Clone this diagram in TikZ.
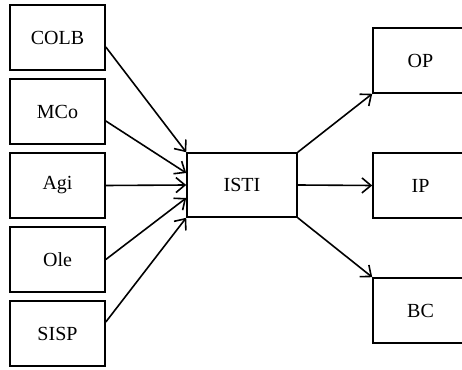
\documentclass[tikz,border=0pt]{standalone}
\usepackage{fontspec}
\setmainfont{Liberation Serif}
\usetikzlibrary{arrows.meta}

\tikzset{
    box/.style={draw, line width=1.6pt, minimum width=95pt, minimum height=65pt,
        inner sep=0pt, font=\fontsize{20}{24}\selectfont},
    link/.style={line width=1.6pt, -{Straight Barb[length=9pt, width=15pt, line width=1.6pt]}}
}

\begin{document}
\begin{tikzpicture}[x=1pt, y=1pt, node distance=74pt]
    \useasboundingbox (0,0) rectangle (462,369);
    \clip (0,0) rectangle (462,369);

    % Place the source boxes on the left
    \node[box] (COLB) at (57.5,331.5) {COLB};
    \node[box] (MCo) [below of=COLB] {MCo};
    \node[box] (Agi) [below of=MCo] {Agi};
    \node[box] (Ole) [below of=Agi] {Ole};
    \node[box] (SISP) [below of=Ole] {SISP};

    % Place the central box
    \node[box, minimum width=110pt, minimum height=64pt] (ISTI) at (242,184) {ISTI};

    % Place the output boxes on the right
    \node[box] (IP) at (420.5,183.5) {IP};
    \node[box] (OP) [above of=IP, node distance=125pt] {OP};
    \node[box] (BC) [below of=IP, node distance=125pt] {BC};

    % Draw the arrows into ISTI
    \draw[link] ([yshift=-9.5pt]COLB.east) -- (ISTI.north west);
    \draw[link] ([yshift=-9.5pt]MCo.east) -- ([yshift=12pt]ISTI.west);
    \draw[link] (Agi.east) -- (ISTI.west);
    \draw[link] (Ole.east) -- ([yshift=-13pt]ISTI.west);
    \draw[link] ([yshift=11.5pt]SISP.east) -- (ISTI.south west);

    % Draw the arrows out of ISTI
    \draw[link] (ISTI.north east) -- (OP.south west);
    \draw[link] (ISTI.east) -- (IP.west);
    \draw[link] (ISTI.south east) -- (BC.north west);
\end{tikzpicture}
\end{document}
